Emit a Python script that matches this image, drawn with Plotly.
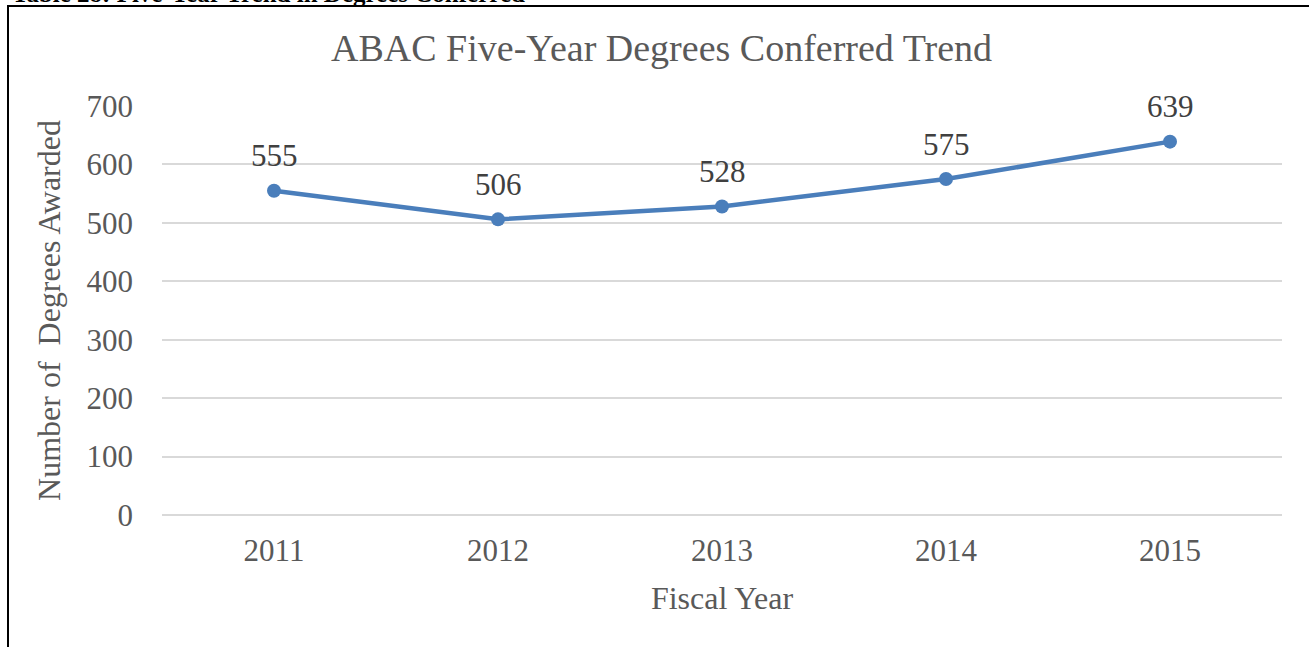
import plotly.graph_objects as go

years = ["2011", "2012", "2013", "2014", "2015"]
degrees = [555, 506, 528, 575, 639]
y_ticks = [0, 100, 200, 300, 400, 500, 600, 700]

W, H = 1309, 647
L, R, T, B = 162, 27, 106, 132
pw, ph = W - L - R, H - T - B


def px_x(p):
    return (p - L) / pw


def px_y(p):
    return (T + ph - p) / ph


fig = go.Figure()
fig.add_trace(go.Scatter(
    x=years, y=degrees, mode="lines+markers",
    line=dict(color="#4A7EBB", width=4.5),
    marker=dict(color="#4A7EBB", size=14),
    hoverinfo="x+y", showlegend=False,
))

for i, v in enumerate(degrees):
    fig.add_annotation(x=i, y=v, text=str(v), showarrow=False, yshift=35,
                       xanchor="center", yanchor="middle",
                       font=dict(family="Liberation Serif", size=31, color="#404040"))

# title
fig.add_annotation(xref="paper", yref="paper", x=px_x(661), y=px_y(48),
                   text="ABAC Five-Year Degrees Conferred Trend", showarrow=False,
                   xanchor="center", yanchor="middle",
                   font=dict(family="Liberation Serif", size=38, color="#595959"))

# cropped caption above the chart box
fig.add_annotation(xref="paper", yref="paper", x=px_x(10), y=px_y(8.5),
                   text="<b>Table 28: Five-Year Trend in Degrees Conferred</b>", showarrow=False,
                   xanchor="left", yanchor="bottom",
                   font=dict(family="Liberation Serif", size=25, color="#000000"))

# border box
fig.add_shape(type="rect", xref="paper", yref="paper",
              x0=px_x(8), x1=px_x(W + 20),
              y0=px_y(H + 20), y1=px_y(6),
              line=dict(color="#000000", width=2), fillcolor="rgba(0,0,0,0)", layer="below")

fig.update_layout(
    width=W, height=H,
    margin=dict(l=L, r=R, t=T, b=B),
    paper_bgcolor="white", plot_bgcolor="white",
    font=dict(family="Liberation Serif", color="#595959"),
    xaxis=dict(
        type="category", range=[-0.5, 4.5], showgrid=False, zeroline=False,
        showline=False, ticks="", ticklabelstandoff=14,
        tickfont=dict(size=31, color="#595959"),
        title=dict(text="Fiscal Year", font=dict(size=32, color="#595959"), standoff=19),
    ),
    yaxis=dict(
        range=[0, 700], tickvals=y_ticks, showgrid=True, gridcolor="#D9D9D9", gridwidth=1.5,
        zeroline=True, zerolinecolor="#D9D9D9", zerolinewidth=1.5,
        showline=False, ticks="", ticklabelstandoff=28,
        tickfont=dict(size=31, color="#595959"),
        title=dict(text="Number of  Degrees Awarded", font=dict(size=32, color="#595959"), standoff=16),
    ),
)

fig.write_html("out.html", config={"displayModeBar": False},
               post_script="document.body.style.margin='0';")
